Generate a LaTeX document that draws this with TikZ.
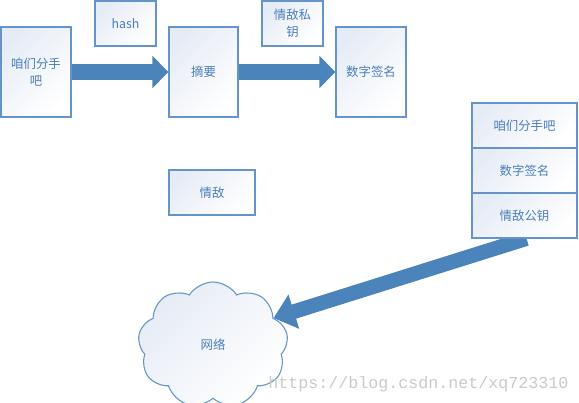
\documentclass[tikz,border=0pt]{standalone}
\usepackage{fontspec}
\setmainfont{Noto Sans CJK SC}
\newfontfamily\wmfont{Liberation Mono}
\usetikzlibrary{shapes.symbols,arrows.meta,backgrounds}
\newcommand\pxu{0.75pt}
\definecolor{txtblue}{HTML}{4A7EBB}
\definecolor{edgeblue}{HTML}{6494CA}
\definecolor{fillblue}{HTML}{E6ECF6}
\definecolor{arrowblue}{HTML}{4A84BA}
\definecolor{wmgray}{HTML}{CBCBC3}
\begin{document}
\begin{tikzpicture}[x=0.75pt,y=-0.75pt,
  box/.style={draw=edgeblue, line width=0.85pt, top color=fillblue, bottom color=white, shading angle=45,
    inner sep=0pt, align=center, text=txtblue, font=\fontsize{9.3pt}{12.5pt}\selectfont},
  bigarrow/.style={draw=arrowblue, line width=12pt, -{Triangle[length=12pt,width=23.5pt]}},
  netarrow/.style={draw=arrowblue, line width=11pt, -{Triangle[length=16pt,width=26pt]}},
  cloudbox/.style={cloud, cloud puffs=9, cloud puff arc=115, aspect=1.3, draw=edgeblue, line width=0.8pt,
    top color=fillblue, bottom color=white, shading angle=45, text=txtblue, font=\fontsize{9.3pt}{12.5pt}\selectfont,
    minimum width=150*\pxu, minimum height=126*\pxu, inner sep=0pt}
]
\useasboundingbox (0,0) rectangle (579,403);
% boxes
\node[box, minimum width=70*\pxu, minimum height=90*\pxu] (msg) at (36,72) {咱们分手\\吧};
\node[box, minimum width=61*\pxu, minimum height=45*\pxu] (hash) at (125.5,23.5) {hash};
\node[box, minimum width=69*\pxu, minimum height=90*\pxu] (digest) at (203.5,72) {摘要};
\node[box, minimum width=61*\pxu, minimum height=45*\pxu] (key) at (292.5,23.5) {情敌私\\钥};
\node[box, minimum width=70*\pxu, minimum height=90*\pxu] (sig) at (371,72) {数字签名};
\node[box, minimum width=86*\pxu, minimum height=45*\pxu] (rival) at (212,192.5) {情敌};
\node[box, minimum width=105*\pxu, minimum height=45*\pxu] (s1) at (524.5,125.5) {咱们分手吧};
\node[box, minimum width=105*\pxu, minimum height=45*\pxu] (s2) at (524.5,170.5) {数字签名};
\node[box, minimum width=105*\pxu, minimum height=45*\pxu] (s3) at (524.5,215.5) {情敌公钥};
\node[cloudbox] (net) at (213,345) {网络};
% arrows
\begin{scope}[on background layer]
\draw[bigarrow] (msg.east) -- (digest.west);
\draw[bigarrow] (digest.east) -- (sig.west);
\draw[netarrow] ([xshift=1.5pt]s3.south) -- (net.24);
\end{scope}
% watermark
\node[anchor=base west, inner sep=0pt, text=wmgray, font=\wmfont\fontsize{12.5pt}{14pt}\selectfont] (wm) at (268,388) {https://blog.csdn.net/xq723310};
\end{tikzpicture}
\end{document}
